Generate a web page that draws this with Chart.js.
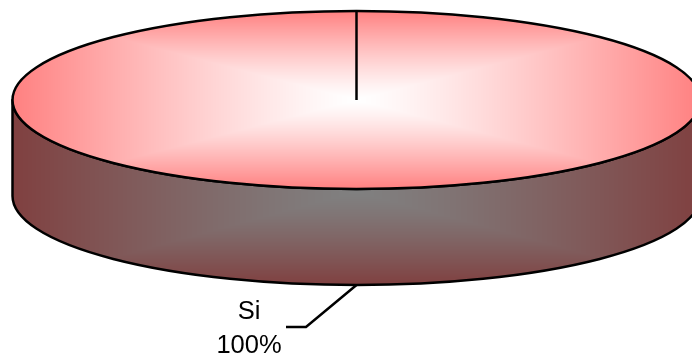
<!DOCTYPE html>
<html>
<head>
<meta charset="utf-8">
<style>
html,body{margin:0;padding:0;background:#fff;overflow:hidden}
#wrap{width:692px;height:356px;position:relative}
</style>
<script src="https://cdn.jsdelivr.net/npm/chart.js@4/dist/chart.umd.min.js"></script>
</head>
<body>
<div id="wrap"><canvas id="c" width="692" height="356"></canvas></div>
<script>
const categories = ['Si'];
const values = [100];

const W = 692, H = 356;
const RADIUS = 344;
const TILT = 89 / 344;
const TOP_CY = 100;
const DEPTH = 96;
const LINE = 2.5;

function pathTile(cx, cy, rx, ry, c0, c1) {
  const t = document.createElement('canvas');
  t.width = W; t.height = H;
  const g = t.getContext('2d');
  const img = g.createImageData(W, H);
  for (let y = 0; y < H; y++) for (let x = 0; x < W; x++) {
    const dx = Math.abs(x + .5 - cx) / rx, dy = Math.abs(y + .5 - cy) / ry;
    const m = Math.min(1, Math.max(dx, dy));
    const k = Math.pow(m, 1.25);
    const i = (y * W + x) * 4;
    for (let j = 0; j < 3; j++) img.data[i + j] = c0[j] + (c1[j] - c0[j]) * k;
    img.data[i + 3] = 255;
  }
  g.putImageData(img, 0, 0);
  return t;
}

const ctxMain = document.getElementById('c').getContext('2d');
const CY0 = H / 2;
const topPattern = ctxMain.createPattern(pathTile(356.5, TOP_CY, RADIUS, 89, [255,255,255], [255,128,128]), 'no-repeat');
topPattern.setTransform(new DOMMatrix().translate(0, CY0).scale(1, 1 / TILT).translate(0, -TOP_CY));
const sideTile = pathTile(356.5, 192, RADIUS, 93, [128,128,128], [128,64,64]);

const pie3d = {
  id: 'pie3d',
  beforeDatasetsDraw(chart) {
    const arc = chart.getDatasetMeta(0).data[0];
    const c = chart.ctx, x = arc.x, r = arc.outerRadius, ry = r * TILT;
    c.save();
    c.beginPath();
    c.moveTo(x - r, TOP_CY);
    c.lineTo(x - r, TOP_CY + DEPTH);
    c.ellipse(x, TOP_CY + DEPTH, r, ry, 0, Math.PI, 0, true);
    c.lineTo(x + r, TOP_CY);
    c.ellipse(x, TOP_CY, r, ry, 0, 0, Math.PI, false);
    c.closePath();
    c.fillStyle = c.createPattern(sideTile, 'no-repeat');
    c.fill();
    c.lineWidth = LINE; c.strokeStyle = '#000'; c.lineJoin = 'round';
    c.stroke();
    c.restore();
    c.save();
    c.translate(0, TOP_CY);
    c.scale(1, TILT);
    c.translate(0, -arc.y);
  },
  afterDatasetsDraw(chart) {
    const c = chart.ctx;
    c.restore();
    const arc = chart.getDatasetMeta(0).data[0];
    const x = arc.x, r = arc.outerRadius, ry = r * TILT;
    c.save();
    c.lineWidth = LINE; c.strokeStyle = '#000';
    c.beginPath();
    c.ellipse(x, TOP_CY, r, ry, 0, 0, Math.PI * 2);
    c.stroke();
    const a = arc.startAngle;
    c.beginPath();
    c.moveTo(x, TOP_CY);
    c.lineTo(x + Math.cos(a) * r, TOP_CY + Math.sin(a) * ry);
    c.stroke();
    // leader line
    const bx = x + Math.cos(Math.PI / 2) * r, by = TOP_CY + DEPTH + ry;
    c.beginPath();
    c.moveTo(bx, by);
    c.lineTo(306, 327);
    c.lineTo(286, 327);
    c.stroke();
    // data label
    const total = values.reduce((p, v) => p + v, 0);
    c.fillStyle = '#000';
    c.font = '25.5px "Liberation Sans", Arial, sans-serif';
    c.textAlign = 'center';
    c.textBaseline = 'alphabetic';
    c.fillText(categories[0], 249, 319);
    c.fillText(Math.round(values[0] / total * 100) + '%', 249, 353);
    c.restore();
  }
};

new Chart(ctxMain, {
  type: 'pie',
  data: {
    labels: categories,
    datasets: [{ data: values, backgroundColor: topPattern, borderWidth: 0, hoverOffset: 0, clip: false }]
  },
  options: {
    responsive: false,
    animation: false,
    radius: RADIUS,
    layout: { padding: { left: 21 } },
    events: [],
    plugins: { legend: { display: false }, title: { display: false }, tooltip: { enabled: false } }
  },
  plugins: [pie3d]
});
</script>
</body>
</html>
